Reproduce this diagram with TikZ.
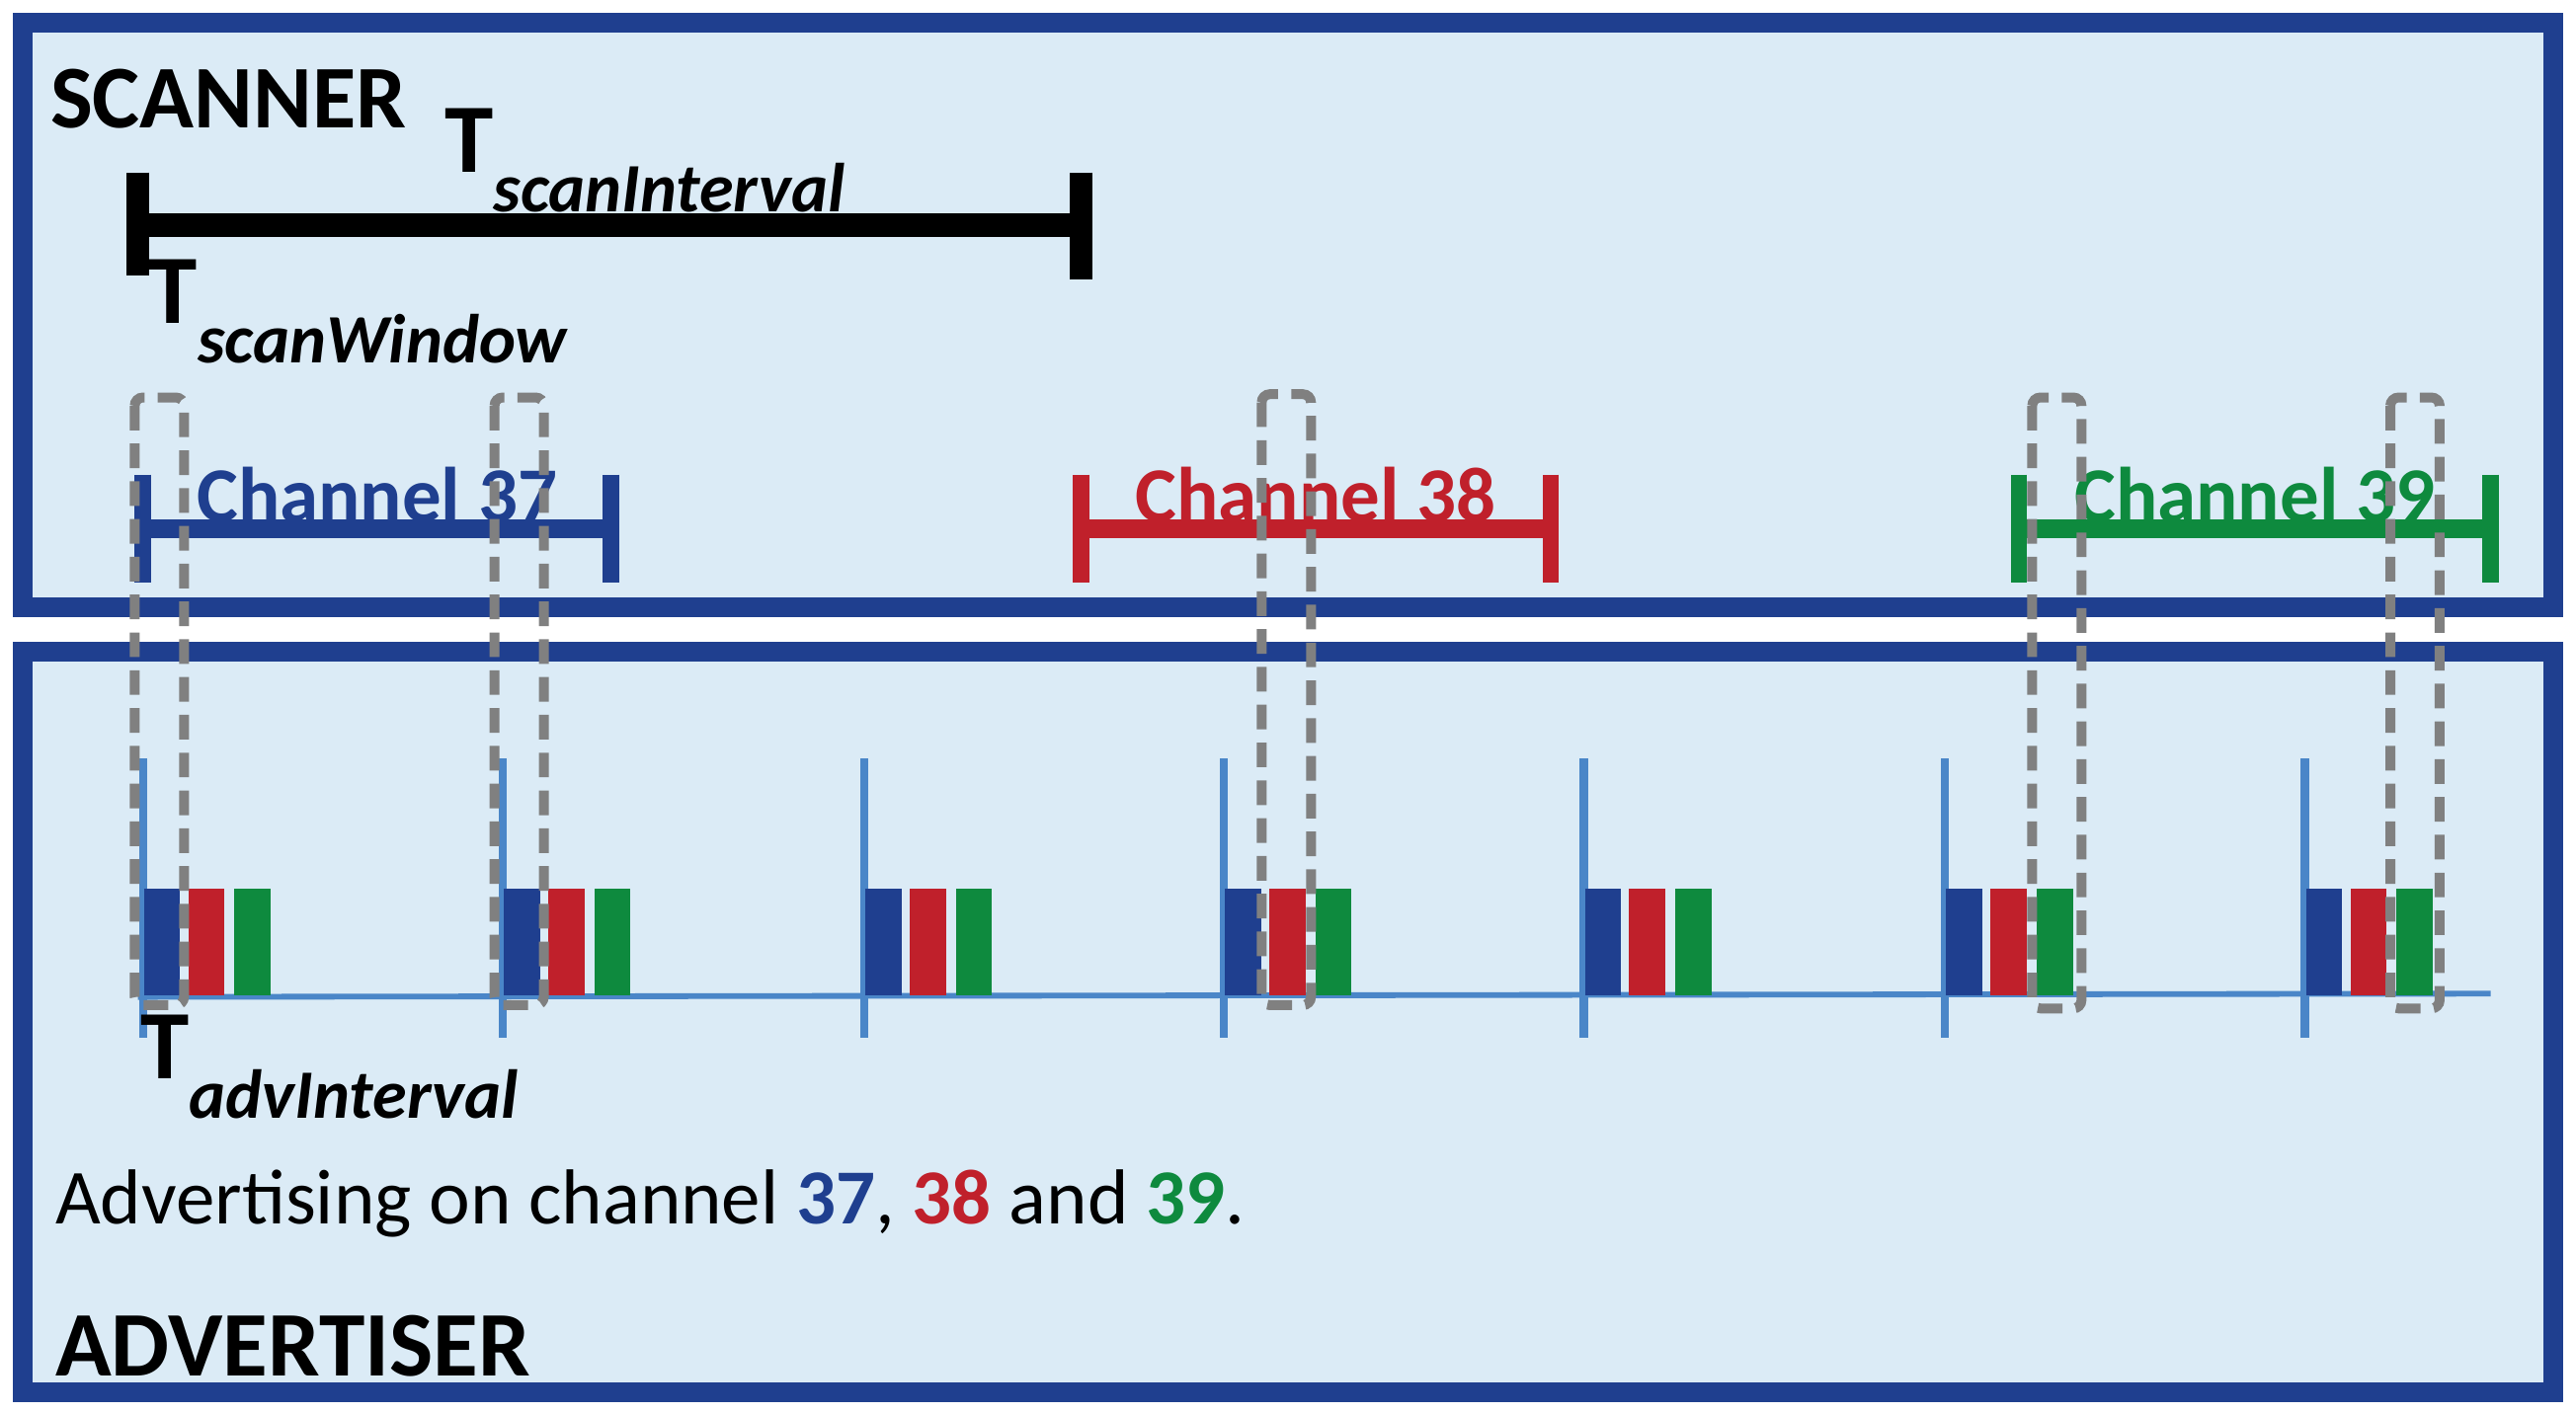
\documentclass[tikz,border=0pt]{standalone}
\usepackage{fontspec}
\setmainfont{Carlito}
\usetikzlibrary{positioning,calc}
\definecolor{chblue}{HTML}{1F3F8F}
\definecolor{chred}{HTML}{C0202B}
\definecolor{chgreen}{HTML}{0E8A3E}
\definecolor{boxfill}{HTML}{DBEBF6}
\definecolor{tline}{HTML}{4A86C8}
\newcommand{\tsub}[1]{T\raisebox{-0.4em}{\fontsize{12}{14}\selectfont\itshape #1}}
\tikzset{
  panel/.style={draw=chblue, line width=1.2mm, fill=boxfill},
  span/.style={line width=1.4mm},
  win/.style={draw=gray, dash pattern=on 1.5mm off 0.8mm, line width=0.6mm, rounded corners=0.5mm},
  tick/.style={draw=tline, line width=0.5mm},
  bar/.style={minimum width=0.22cm, minimum height=0.65cm, inner sep=0pt, anchor=south west},
  lbl/.style={font=\fontsize{13.5}{16}\selectfont\bfseries, inner sep=0pt},
  tlbl/.style={anchor=base west, inner sep=0pt, font=\fontsize{17}{18}\selectfont\bfseries}
}
\begin{document}
\begin{tikzpicture}[x=0.01cm,y=-0.01cm]
\useasboundingbox (0,0) rectangle (1568,860);
% panels
\draw[panel] (14,14) rectangle (1554,370);
\draw[panel] (14,397) rectangle (1554,848);
\node[anchor=base west, inner sep=0pt, font=\fontsize{15.5}{18}\selectfont\bfseries] (scanner) at (30,78) {SCANNER};
\node[anchor=base west, inner sep=0pt, font=\fontsize{16}{18}\selectfont\bfseries] (advertiser) at (33,838) {ADVERTISER};
% scan interval / window
\coordinate (si0) at (84,137);
\coordinate (si1) at (658,137);
\draw[span] (si0) -- (si1);
\draw[span] ($(si0)+(0,-32)$) -- ($(si0)+(0,31)$);
\draw[span] ($(si1)+(0,-32)$) -- ($(si1)+(0,33)$);
\node[tlbl] (tsi) at (270,105) {\tsub{scanInterval}};
\node[tlbl] (tsw) at (90,197) {\tsub{scanWindow}};
% channels
\foreach \name/\col/\xa/\xb/\txt in {c37/chblue/87/372/37, c38/chred/658/944/38, c39/chgreen/1229/1516/39}{
  \coordinate (\name a) at (\xa,322);
  \coordinate (\name b) at (\xb,322);
  \draw[draw=\col, line width=1.1mm] (\name a) -- (\name b);
  \draw[draw=\col, line width=1mm] ($(\name a)+(0,-33)$) -- ($(\name a)+(0,33)$);
  \draw[draw=\col, line width=1mm] ($(\name b)+(0,-33)$) -- ($(\name b)+(0,33)$);
  \node[lbl, text=\col, anchor=base] (\name lbl) at ($(\name a)!0.5!(\name b)+(0,-4)$) {Channel \txt};
}
% timeline
\coordinate (t0) at (84,607);
\coordinate (t1) at (1516,605);
\draw[tick, line width=0.35mm] (t0) -- (t1);
\foreach \x [count=\i] in {87,306,526,745,964,1184,1403}{
  \draw[tick] (\x,462) -- (\x,632);
  \node[bar, fill=chblue] (b\i) at (\x,607) {};
  \node[bar, fill=chred] (r\i) at (\x+27,607) {};
  \node[bar, fill=chgreen] (g\i) at (\x+55,607) {};
}
% scan windows
\foreach \x/\ya/\yb in {82/242/612, 301/242/612, 768/240/612, 1237/242/614, 1455/242/614}
  \draw[win] (\x,\ya) rectangle (\x+30,\yb);
\node[tlbl] (tai) at (85,657) {\tsub{advInterval}};
\node[anchor=base west, inner sep=0pt, font=\fontsize{13.5}{16}\selectfont] (adv) at (33,745) {Advertising on channel \textcolor{chblue}{\bfseries 37}, \textcolor{chred}{\bfseries 38} and \textcolor{chgreen}{\bfseries 39}.};
\end{tikzpicture}
\end{document}
